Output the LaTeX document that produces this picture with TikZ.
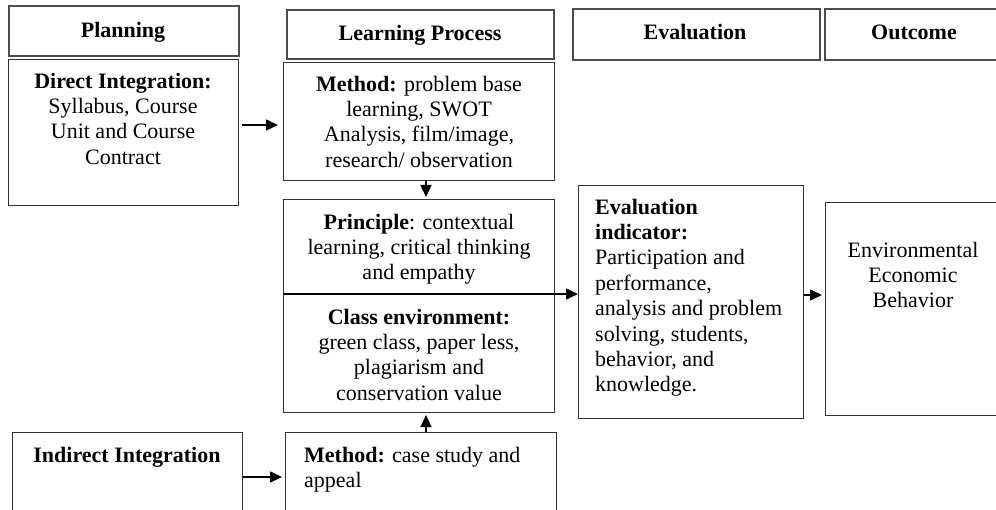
\documentclass[tikz,border=0pt]{standalone}
\usepackage{fontspec}
\setmainfont{Liberation Serif}
\usetikzlibrary{arrows.meta,calc}
\newcommand{\fs}{\fontsize{22}{25.4}\selectfont}
\tikzset{
  box/.style={draw=black!80, line width=1.1pt, rectangle, inner sep=0pt, anchor=north west},
  hbox/.style={draw=black!70, line width=1.6pt, rectangle, inner sep=0pt, anchor=north west},
  txt/.style={inner sep=0pt, font=\fs, align=center, anchor=north},
  ltxt/.style={inner sep=0pt, font=\fs, align=left, anchor=north west},
  arr/.style={draw=black, line width=1.5pt, -{Triangle[length=12pt,width=11pt]}}
}
\begin{document}
\begin{tikzpicture}[x=1pt,y=-1pt]
\clip (0,0) rectangle (996,510);
\fill[white] (0,0) rectangle (996,510);
% boxes
\node[hbox, minimum width=230pt, minimum height=50pt] (planH) at (8,5) {};
\node[box, minimum width=230pt, minimum height=146pt] (direct) at (8,59) {};
\node[hbox, minimum width=267pt, minimum height=49pt] (lpH) at (286,9) {};
\node[box, minimum width=271pt, minimum height=118pt] (method1) at (283,62) {};
\node[box, minimum width=271pt, minimum height=95pt] (principle) at (283,199) {};
\node[box, minimum width=271pt, minimum height=118pt] (classenv) at (283,294) {};
\node[hbox, minimum width=247pt, minimum height=51pt] (evalH) at (572,8) {};
\node[box, minimum width=225pt, minimum height=233pt] (evalbox) at (578,185) {};
\node[hbox, minimum width=180pt, minimum height=51pt] (outH) at (824,8) {};
\node[box, minimum width=180pt, minimum height=213pt] (outbox) at (825,202) {};
\node[box, minimum width=230pt, minimum height=100pt] (indirect) at (12,432) {};
\node[box, minimum width=271pt, minimum height=100pt] (method2) at (285,432) {};
% texts
\node[txt] (tplan) at (123,19.2) {\strut\textbf{Planning}};
\node[txt] (tdirect) at (123,70.2) {\strut\textbf{Direct Integration:}\\Syllabus, Course\\Unit and Course\\Contract};
\node[txt] (tlp) at (420,22.2) {\strut\textbf{Learning Process}};
\node[txt] (tm1) at (419,73.2) {\strut\textbf{Method:} problem base\\learning, SWOT\\Analysis, film/image,\\research/ observation};
\node[txt] (tpr) at (419,211.2) {\strut\textbf{Principle}: contextual\\learning, critical thinking\\and empathy};
\node[txt] (tce) at (419,306.2) {\strut\textbf{Class environment:}\\green class, paper less,\\plagiarism and\\conservation value};
\node[txt] (teval) at (695,21.2) {\strut\textbf{Evaluation}};
\node[txt] (tout) at (914,21.2) {\strut\textbf{Outcome}};
\node[ltxt] (tev) at (595,196.2) {\strut\textbf{Evaluation}\\\textbf{indicator:}\\Participation and\\performance,\\analysis and problem\\solving, students,\\behavior, and\\knowledge.};
\node[txt] (tob) at (913,239.2) {\strut Environmental\\Economic\\Behavior};
\node[txt] (tind) at (127,444.2) {\strut\textbf{Indirect Integration}};
\node[ltxt] (tm2) at (304,444.2) {\strut\textbf{Method:} case study and\\appeal};
% connectors
\draw[arr, shorten <=3pt, shorten >=5pt] (direct.east |- 0,125) -- (method1.west |- 0,125);
\draw[arr, shorten >=2pt] (method1.south -| 426,0) -- (principle.north -| 426,0);
\draw[arr, shorten <=0pt, shorten >=3pt] (indirect.east |- 0,477) -- (method2.west |- 0,477);
\draw[arr, shorten >=2pt] (method2.north -| 426,0) -- (classenv.south -| 426,0);
\draw[arr] (classenv.north west) -- (classenv.north west -| evalbox.west);
\draw[arr, shorten >=3pt] (evalbox.east |- 0,295) -- (outbox.west |- 0,295);
\end{tikzpicture}
\end{document}
